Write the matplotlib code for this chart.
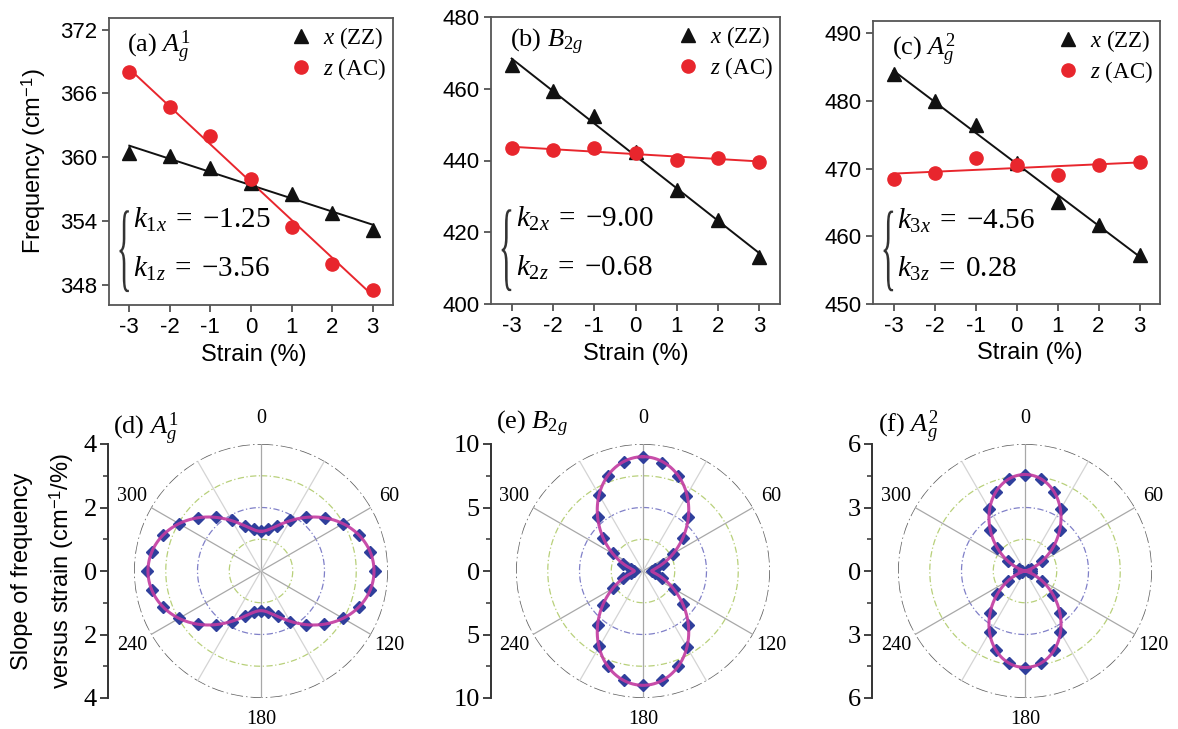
import numpy as np
import matplotlib.pyplot as plt
from matplotlib.textpath import TextPath
from matplotlib.patches import PathPatch
from matplotlib.font_manager import FontProperties
from matplotlib.transforms import Affine2D

plt.rcParams['font.family'] = 'Liberation Sans'
plt.rcParams['mathtext.fontset'] = 'custom'
plt.rcParams['mathtext.rm'] = 'Liberation Serif'
plt.rcParams['mathtext.it'] = 'Liberation Serif:italic'
plt.rcParams['mathtext.sf'] = 'Liberation Sans'

# ---- data: frequency vs strain (top row)
strain = [-3, -2, -1, 0, 1, 2, 3]
freq_zz_a = [360.4, 360.1, 359.0, 357.6, 356.5, 354.8, 353.2]
freq_ac_a = [368.0, 364.7, 362.0, 358.0, 353.4, 350.0, 347.5]
freq_zz_b = [466.7, 459.3, 452.4, 442.4, 431.7, 423.3, 413.2]
freq_ac_b = [443.4, 442.9, 443.6, 442.1, 440.1, 440.8, 439.6]
freq_zz_c = [483.9, 480.0, 476.5, 470.8, 465.0, 461.6, 457.3]
freq_ac_c = [468.5, 469.3, 471.5, 470.6, 469.1, 470.6, 471.0]

k_x = [-1.25, -9.00, -4.56]
k_z = [-3.56, -0.68, 0.28]

# ---- data: slope vs strain direction (bottom row), every 10 deg
angle_deg = list(range(0, 360, 10))
slope_d = [1.25, 1.33, 1.50, 1.85, 2.22, 2.62, 2.98, 3.30, 3.49, 3.58, 3.48, 3.29,
           2.97, 2.60, 2.20, 1.84, 1.52, 1.32, 1.26, 1.32, 1.51, 1.84, 2.21, 2.61,
           2.97, 3.29, 3.50, 3.58, 3.49, 3.30, 2.98, 2.61, 2.21, 1.85, 1.51, 1.33]
slope_e = [8.95, 8.65, 7.95, 6.85, 5.50, 4.10, 2.75, 1.65, 0.95, 0.70, 0.93, 1.62,
           2.78, 4.08, 5.52, 6.88, 7.98, 8.68, 8.98, 8.70, 7.96, 6.86, 5.55, 4.12,
           2.74, 1.66, 0.94, 0.69, 0.92, 1.64, 2.77, 4.10, 5.53, 6.90, 7.97, 8.70]
slope_f = [4.55, 4.40, 3.98, 3.36, 2.55, 1.72, 0.94, 0.30, 0.14, 0.27, 0.13, 0.31,
           0.92, 1.73, 2.57, 3.34, 3.99, 4.42, 4.57, 4.41, 3.97, 3.35, 2.56, 1.71,
           0.93, 0.29, 0.14, 0.28, 0.13, 0.30, 0.94, 1.72, 2.55, 3.36, 3.98, 4.41]

W, H = 1178, 729
fig = plt.figure(figsize=(W / 100, H / 100), dpi=100)


def box(l, t, r, b):
    return [l / W, 1 - b / H, (r - l) / W, (b - t) / H]


def brace(ax, x0, y0, x1, y1):
    tp = TextPath((0, 0), '{', size=10, prop=FontProperties(family='Liberation Serif'))
    ext = tp.get_extents()
    tr = (Affine2D().translate(-ext.x0, -ext.y0)
          .scale((x1 - x0) / ext.width, (y1 - y0) / ext.height)
          .translate(x0, y0))
    ax.add_patch(PathPatch(tp, transform=tr + ax.transAxes, fc='#333333', lw=0, clip_on=False))


def k_str(v):
    s = '%.2f' % v
    return s.replace('-', '{-}')


def top_panel(rect, zz, ac, ylim, yticks, title, n, i):
    ax = fig.add_axes(rect)
    s = np.array(strain)
    for vals, mk, col, lab in [(zz, '^', '#111111', r'$x$ (ZZ)'), (ac, 'o', '#e8262d', r'$z$ (AC)')]:
        p = np.polyfit(s, vals, 1)
        ax.plot(s, np.polyval(p, s), color=col, lw=1.4, zorder=2)
        ax.plot(s, vals, mk, color=col, ms=9.5, label=lab, zorder=3, ls='none')
    ax.set_xlim(-3.5, 3.5)
    ax.set_ylim(*ylim)
    ax.set_xticks(strain)
    ax.set_xticklabels(['-3', '-2', '-1', '0', '1', '2', '3'])
    ax.set_yticks(yticks)
    ax.tick_params(direction='out', length=5, width=1.2, labelsize=16, color='#444444',
                   top=False, right=False)
    for sp in ax.spines.values():
        sp.set_color('#555555')
        sp.set_linewidth(1.3)
    ax.set_xlabel('Strain (%)', fontsize=17)
    ax.xaxis.set_label_coords([0.51, 0.5, 0.547][i], -0.135)
    ax.legend(loc='upper right', frameon=False, prop={'family': 'Liberation Serif', 'size': 16.5},
              handlelength=1.0, handletextpad=0.45, labelspacing=0.25, borderaxespad=0.1,
              borderpad=0.2)
    ax.text(0.065, 0.965, title, transform=ax.transAxes, ha='left', va='top',
            fontsize=19, family='Liberation Serif')
    brace(ax, 0.037, 0.045, 0.07, 0.33)
    ax.text(0.085, 0.295, r'$k_{%d x}\;=\;%s$' % (n, k_str(k_x[i])), transform=ax.transAxes,
            ha='left', va='center', fontsize=21)
    ax.text(0.085, 0.125, r'$k_{%d z}\;=\;%s$' % (n, k_str(k_z[i])), transform=ax.transAxes,
            ha='left', va='center', fontsize=21)
    return ax


ax_a = top_panel(box(109, 18, 393, 305), freq_zz_a, freq_ac_a, (346.1, 373.1),
                 [348, 354, 360, 366, 372], r'(a) $A_g^1$', 1, 0)
ax_a.set_ylabel(r'Frequency (cm$^{\mathsf{-1}}$)', fontsize=17)
ax_a.yaxis.set_label_coords(-0.215, 0.5)
top_panel(box(491, 17, 780, 304), freq_zz_b, freq_ac_b, (400, 480),
          [400, 420, 440, 460, 480], r'(b) $B_{2g}$', 2, 1)
top_panel(box(873, 21, 1160, 304), freq_zz_c, freq_ac_c, (450, 491.8),
          [450, 460, 470, 480, 490], r'(c) $A_g^2$', 3, 2)


def polar_panel(cx, slope, kx, kz, rmax, ticks, minor, title, axis_x, title_x, title_y):
    R = 127
    cy = 571
    ax = fig.add_axes(box(cx - R, cy - R, cx + R, cy + R), projection='polar')
    ax.set_theta_zero_location('N')
    ax.set_theta_direction(-1)
    ax.set_ylim(0, rmax)
    ax.set_xticks([])
    ax.set_yticks([])
    ax.grid(False)
    ax.spines['polar'].set_visible(False)
    th = np.linspace(0, 2 * np.pi, 721)
    for frac, col in [(0.25, '#b8d07a'), (0.5, '#8080c8'), (0.75, '#b8d07a')]:
        ax.plot(th, np.full_like(th, rmax * frac), color=col, lw=0.9, ls=(0, (5, 2, 1, 2)))
    ax.plot(th, np.full_like(th, rmax), color='#606060', lw=1.1, ls=(0, (8, 2, 1, 2)))
    for a in [0, 30, 60, 120, 150, 180, 210, 240, 300, 330]:
        col = '#a8a8a8' if a % 60 == 0 else '#d4d4d4'
        ax.plot([np.radians(a)] * 2, [0, rmax], color=col, lw=0.9)
    ang = np.radians(angle_deg)
    ax.plot(ang, slope, 'D', color='#2f3f9c', ms=6.5, ls='none', zorder=3)
    ax.plot(th, np.abs(kx * np.cos(th) ** 2 + kz * np.sin(th) ** 2), color='#c23aa0',
            lw=2.2, alpha=0.9, zorder=4)
    for a in [0, 60, 120, 180, 240, 300]:
        f = 1.2 if a == 0 else 1.17
        ax.text(np.radians(a), rmax * f, str(a), ha='center', va='center',
                family='Liberation Serif', fontsize=14.5)

    lax = fig.add_axes(box(axis_x, cy - R, axis_x + 2, cy + R))
    lax.set_ylim(-rmax, rmax)
    lax.set_xticks([])
    for k in ['top', 'right', 'bottom']:
        lax.spines[k].set_visible(False)
    lax.spines['left'].set_color('#333333')
    lax.spines['left'].set_linewidth(1.4)
    lax.set_yticks(ticks)
    lax.set_yticklabels(['%g' % abs(t) for t in ticks])
    lax.set_yticks(minor, minor=True)
    lax.tick_params(axis='y', which='major', direction='out', length=6, width=1.3,
                    labelsize=19, pad=2, color='#333333')
    lax.tick_params(axis='y', which='minor', direction='out', length=3.5, width=1.1,
                    color='#333333')
    for lbl in lax.get_yticklabels():
        lbl.set_family('Liberation Serif')
    fig.text(title_x / W, 1 - title_y / H, title, ha='left', va='baseline',
             fontsize=19, family='Liberation Serif')


polar_panel(261, slope_d, k_x[0], k_z[0], 4, [-4, -2, 0, 2, 4], [-3, -1, 1, 3],
            r'(d) $A_g^1$', 108, 113, 434)
polar_panel(643, slope_e, k_x[1], k_z[1], 10, [-10, -5, 0, 5, 10], [-7.5, -2.5, 2.5, 7.5],
            r'(e) $B_{2g}$', 491, 496, 429)
polar_panel(1025, slope_f, k_x[2], k_z[2], 6, [-6, -3, 0, 3, 6], [-4.5, -1.5, 1.5, 4.5],
            r'(f) $A_g^2$', 872, 878, 432)

fig.text(22 / W, 1 - 571 / H, 'Slope of frequency', rotation=90, ha='center', va='center',
         fontsize=17)
fig.text(62 / W, 1 - 571 / H, r'versus strain (cm$^{\mathsf{-1}}$/%)', rotation=90,
         ha='center', va='center', fontsize=17)

fig.savefig('out.png', dpi=100)
